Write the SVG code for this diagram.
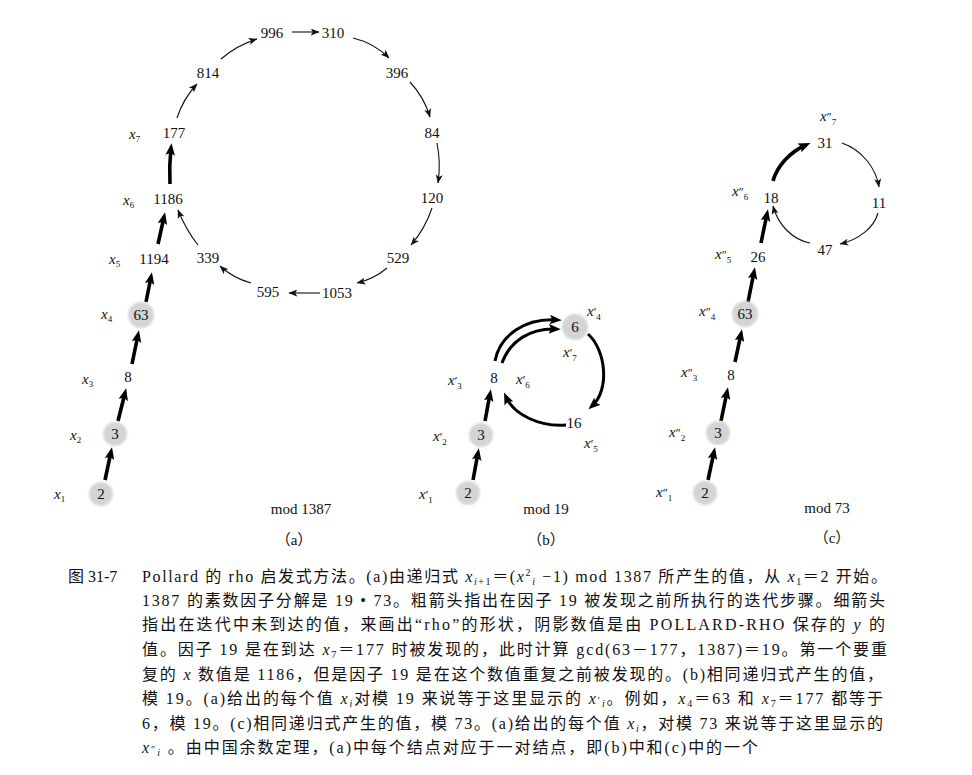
<svg xmlns="http://www.w3.org/2000/svg" width="972" height="775" viewBox="0 0 972 775">
<style>
.n{font-family:"Liberation Serif",serif;font-size:15px;text-anchor:middle;fill:#111}
.l{font-family:"Liberation Serif",serif;font-size:15px;font-style:italic;fill:#111}
.s{font-size:9px;font-style:normal}
.p{font-style:normal;font-size:12px}
.sh{fill:#d4d4d4;filter:url(#fz)}
.thin{fill:none;stroke:#111;stroke-width:1.1;marker-end:url(#ah)}
.thick{fill:none;stroke:#000;stroke-width:3.6;marker-end:url(#ahk)}
.mid{stroke-width:3}
.cap{font-family:"Liberation Serif","Noto Sans CJK SC",serif;font-size:16px;fill:#111}
.i{font-style:italic}
.cs{font-size:10px}
.tag{font-family:"Liberation Serif","Noto Sans CJK SC",serif;font-size:15px;text-anchor:middle;fill:#111}
</style>
<defs>
<filter id="fz" x="-20%" y="-20%" width="140%" height="140%"><feGaussianBlur stdDeviation="0.8"/></filter>
<marker id="ah" viewBox="0 0 10 8" markerWidth="9" markerHeight="7" refX="9.5" refY="4" orient="auto" markerUnits="userSpaceOnUse"><path d="M0,0 L10,4 L0,8 L2.5,4 z" fill="#111"/></marker>
<marker id="ahk" viewBox="0 0 10 8" markerWidth="12" markerHeight="10" refX="6" refY="4" orient="auto" markerUnits="userSpaceOnUse"><path d="M0,0 L10,4 L0,8 L2,4 z" fill="#000"/></marker>
</defs>
<rect width="972" height="775" fill="#fff"/>

<g id="connectors">
<path class="thin" d="M292,32 L319,32"/>
<path class="thin" d="M353,38 Q374,43 389,58"/>
<path class="thin" d="M410,82 Q424,97 430,117"/>
<path class="thin" d="M437,143 Q441,163 438,183"/>
<path class="thin" d="M432,208 Q425,229 411,245"/>
<path class="thin" d="M387,268 Q374,279 357,283"/>
<path class="thin" d="M320,293 L289,293"/>
<path class="thin" d="M251,283 Q233,278 220,266"/>
<path class="thin" d="M198,245 Q186,230 178,210"/>
<path class="thin" d="M177,118 Q183,99 197,84"/>
<path class="thin" d="M221,59 Q237,45 257,39"/>
<path class="thick" d="M170,184 Q169,166 171,148"/>
<path class="thick" d="M105,480 L111,452"/>
<path class="thick" d="M118,421 L125,393"/>
<path class="thick" d="M132,364 L138,335"/>
<path class="thick" d="M146,302 L151,277"/>
<path class="thick" d="M158,244 L164,217"/>
<path class="thick" d="M473,480 L478,453"/>
<path class="thick" d="M485,421 L490,394"/>
<path class="thick mid" d="M495,361 C500,335 525,318 557,320"/>
<path class="thick mid" d="M502,363 C510,341 530,328 556,329"/>
<path class="thick mid" d="M588,334 C606,350 610,390 592,406"/>
<path class="thick mid" d="M566,425 C540,427 514,415 506,397"/>
<path class="thick" d="M708,480 L714,452"/>
<path class="thick" d="M721,421 L727,392"/>
<path class="thick" d="M735,362 L741,334"/>
<path class="thick" d="M748,302 L754,272"/>
<path class="thick" d="M761,243 L767,214"/>
<path class="thick" d="M773,181 C777,166 790,152 806,145"/>
<path class="thin" d="M842,143 C862,150 876,168 879,187"/>
<path class="thin" d="M878,213 C874,228 858,240 840,244"/>
<path class="thin" d="M810,243 C793,240 778,225 773,206"/>
</g>

<g id="a-996"><text class="n" x="272" y="38">996</text></g>
<g id="a-310"><text class="n" x="333" y="38">310</text></g>
<g id="a-396"><text class="n" x="397" y="78">396</text></g>
<g id="a-84"><text class="n" x="432" y="138">84</text></g>
<g id="a-120"><text class="n" x="432" y="203">120</text></g>
<g id="a-529"><text class="n" x="398" y="263">529</text></g>
<g id="a-1053"><text class="n" x="337" y="298">1053</text></g>
<g id="a-595"><text class="n" x="268" y="297">595</text></g>
<g id="a-339"><text class="n" x="208" y="263">339</text></g>
<g id="a-814"><text class="n" x="208" y="78">814</text></g>
<g id="a-177"><text class="n" x="174" y="138">177</text><text class="l" x="129" y="139">x<tspan class="s" dy="3">7</tspan></text></g>
<g id="a-1186"><text class="n" x="168" y="204">1186</text><text class="l" x="123" y="205">x<tspan class="s" dy="3">6</tspan></text></g>
<g id="a-1194"><text class="n" x="154" y="264">1194</text><text class="l" x="109" y="264">x<tspan class="s" dy="3">5</tspan></text></g>
<g id="a-63"><circle class="sh" cx="141" cy="315" r="13"/><text class="n" x="141" y="320">63</text><text class="l" x="101" y="319">x<tspan class="s" dy="3">4</tspan></text></g>
<g id="a-8"><text class="n" x="128" y="382">8</text><text class="l" x="82" y="384">x<tspan class="s" dy="3">3</tspan></text></g>
<g id="a-3"><circle class="sh" cx="115" cy="434" r="12"/><text class="n" x="115" y="439">3</text><text class="l" x="70" y="440">x<tspan class="s" dy="3">2</tspan></text></g>
<g id="a-2"><circle class="sh" cx="101" cy="494" r="12"/><text class="n" x="101" y="499">2</text><text class="l" x="54" y="499">x<tspan class="s" dy="3">1</tspan></text></g>
<g id="a-mod"><text class="n" x="301" y="514">mod 1387</text><text class="tag" x="294" y="545">（a）</text></g>

<g id="b-6"><circle class="sh" cx="575" cy="327" r="13"/><text class="n" x="575" y="332">6</text><text class="l" x="587" y="316">x<tspan class="p">′</tspan><tspan class="s" dy="4">4</tspan></text><text class="l" x="563" y="357">x<tspan class="p">′</tspan><tspan class="s" dy="4">7</tspan></text></g>
<g id="b-8"><text class="n" x="494" y="383">8</text><text class="l" x="448" y="385">x<tspan class="p">′</tspan><tspan class="s" dy="4">3</tspan></text><text class="l" x="516" y="384">x<tspan class="p">′</tspan><tspan class="s" dy="4">6</tspan></text></g>
<g id="b-16"><text class="n" x="574" y="428">16</text><text class="l" x="584" y="448">x<tspan class="p">′</tspan><tspan class="s" dy="4">5</tspan></text></g>
<g id="b-3"><circle class="sh" cx="481" cy="435" r="12"/><text class="n" x="481" y="440">3</text><text class="l" x="433" y="441">x<tspan class="p">′</tspan><tspan class="s" dy="4">2</tspan></text></g>
<g id="b-2"><circle class="sh" cx="468" cy="493" r="12"/><text class="n" x="468" y="498">2</text><text class="l" x="419" y="499">x<tspan class="p">′</tspan><tspan class="s" dy="4">1</tspan></text></g>
<g id="b-mod"><text class="n" x="546" y="514">mod 19</text><text class="tag" x="546" y="545">（b）</text></g>

<g id="c-31"><text class="n" x="825" y="148">31</text><text class="l" x="820" y="121">x<tspan class="p">″</tspan><tspan class="s" dy="4">7</tspan></text></g>
<g id="c-11"><text class="n" x="879" y="208">11</text></g>
<g id="c-47"><text class="n" x="825" y="255">47</text></g>
<g id="c-18"><text class="n" x="771" y="203">18</text><text class="l" x="732" y="196">x<tspan class="p">″</tspan><tspan class="s" dy="4">6</tspan></text></g>
<g id="c-26"><text class="n" x="758" y="262">26</text><text class="l" x="715" y="259">x<tspan class="p">″</tspan><tspan class="s" dy="4">5</tspan></text></g>
<g id="c-63"><circle class="sh" cx="745" cy="314" r="13"/><text class="n" x="745" y="319">63</text><text class="l" x="699" y="316">x<tspan class="p">″</tspan><tspan class="s" dy="4">4</tspan></text></g>
<g id="c-8"><text class="n" x="731" y="380">8</text><text class="l" x="681" y="377">x<tspan class="p">″</tspan><tspan class="s" dy="4">3</tspan></text></g>
<g id="c-3"><circle class="sh" cx="718" cy="433" r="12"/><text class="n" x="718" y="438">3</text><text class="l" x="669" y="437">x<tspan class="p">″</tspan><tspan class="s" dy="4">2</tspan></text></g>
<g id="c-2"><circle class="sh" cx="705" cy="493" r="12"/><text class="n" x="705" y="498">2</text><text class="l" x="656" y="497">x<tspan class="p">″</tspan><tspan class="s" dy="4">1</tspan></text></g>
<g id="c-mod"><text class="n" x="827" y="513">mod 73</text><text class="tag" x="832" y="543">（c）</text></g>

<g id="caption">
<text class="cap" x="68" y="582">图 31-7</text>
<text class="cap" x="142" y="582" textLength="745" lengthAdjust="spacing">Pollard 的 rho 启发式方法。(a)由递归式 <tspan class="i">x</tspan><tspan class="cs i" dy="3">i</tspan><tspan class="cs">+1</tspan><tspan dy="-3">＝(</tspan><tspan class="i">x</tspan><tspan class="cs" dy="-6">2</tspan><tspan class="cs i" dy="9">i</tspan><tspan dy="-3"> −1) mod 1387 所产生的值，从 </tspan><tspan class="i">x</tspan><tspan class="cs" dy="3">1</tspan><tspan dy="-3">＝2 开始。</tspan></text>
<text class="cap" x="142" y="606" textLength="743" lengthAdjust="spacing">1387 的素数因子分解是 19 • 73。粗箭头指出在因子 19 被发现之前所执行的迭代步骤。细箭头</text>
<text class="cap" x="142" y="630" textLength="743" lengthAdjust="spacing">指出在迭代中未到达的值，来画出“rho”的形状，阴影数值是由 POLLARD-RHO 保存的 <tspan class="i">y</tspan> 的</text>
<text class="cap" x="142" y="655" textLength="745" lengthAdjust="spacing">值。因子 19 是在到达 <tspan class="i">x</tspan><tspan class="cs" dy="3">7</tspan><tspan dy="-3">＝177 时被发现的，此时计算 gcd(63－177，1387)＝19。第一个要重</tspan></text>
<text class="cap" x="142" y="680" textLength="741" lengthAdjust="spacing">复的 <tspan class="i">x</tspan> 数值是 1186，但是因子 19 是在这个数值重复之前被发现的。(b)相同递归式产生的值，</text>
<text class="cap" x="142" y="704" textLength="741" lengthAdjust="spacing">模 19。(a)给出的每个值 <tspan class="i">x</tspan><tspan class="cs i" dy="3">i</tspan><tspan dy="-3">对模 19 来说等于这里显示的 </tspan><tspan class="i">x</tspan><tspan class="cs">′</tspan><tspan class="cs i" dy="3">i</tspan><tspan dy="-3">。例如，</tspan><tspan class="i">x</tspan><tspan class="cs" dy="3">4</tspan><tspan dy="-3">＝63 和 </tspan><tspan class="i">x</tspan><tspan class="cs" dy="3">7</tspan><tspan dy="-3">＝177 都等于</tspan></text>
<text class="cap" x="142" y="729" textLength="741" lengthAdjust="spacing">6，模 19。(c)相同递归式产生的值，模 73。(a)给出的每个值 <tspan class="i">x</tspan><tspan class="cs i" dy="3">i</tspan><tspan dy="-3">，对模 73 来说等于这里显示的</tspan></text>
<text class="cap" x="142" y="753" textLength="616" lengthAdjust="spacing"><tspan class="i">x</tspan><tspan class="cs">″</tspan><tspan class="cs i" dy="3">i</tspan><tspan dy="-3"> 。由中国余数定理，(a)中每个结点对应于一对结点，即(b)中和(c)中的一个</tspan></text>
</g>
</svg>
